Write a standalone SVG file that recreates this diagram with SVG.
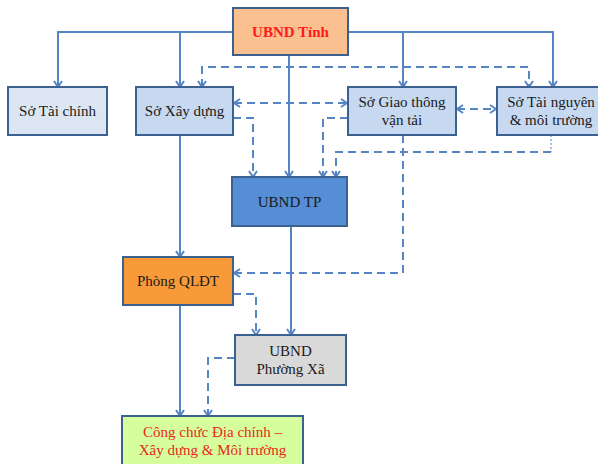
<svg xmlns="http://www.w3.org/2000/svg" width="598" height="464" viewBox="0 0 598 464">
<style>
.box{stroke:#3c6190;stroke-width:2}
.t{font-family:"Liberation Serif","DejaVu Serif",serif;font-size:15px;fill:#1a1a1a;text-anchor:middle}
.red{fill:#ff1a1a}
.c{fill:none;stroke:#5585c5;stroke-width:2}
.d{stroke-dasharray:8 5}
.dot{stroke-width:1;stroke-dasharray:2 2}
</style>
<defs>
<marker id="a" viewBox="0 0 10 10" refX="8" refY="5" markerWidth="10" markerHeight="10" markerUnits="userSpaceOnUse" orient="auto-start-reverse">
<path d="M2,1 L8,5 L2,9" fill="none" stroke="#5585c5" stroke-width="2"/>
</marker>
</defs>
<rect width="598" height="464" fill="#ffffff"/>
<g id="connectors">
<path class="c" d="M233,32 H58 V87" marker-end="url(#a)"/>
<path class="c" d="M180,32 V87" marker-end="url(#a)"/>
<path class="c" d="M289,55 V177" marker-end="url(#a)"/>
<path class="c" d="M348,32 H553 V87" marker-end="url(#a)"/>
<path class="c" d="M403,32 V87" marker-end="url(#a)"/>
<path class="c" d="M180,135 V257" marker-end="url(#a)"/>
<path class="c" d="M291,226 V335" marker-end="url(#a)"/>
<path class="c" d="M180,305 V416" marker-end="url(#a)"/>
<path class="c d" d="M202,87 V67 H529 V87" marker-start="url(#a)" marker-end="url(#a)"/>
<path class="c d" d="M234,103 H347" marker-start="url(#a)" marker-end="url(#a)"/>
<path class="c d" d="M233,118 H253 V177" marker-end="url(#a)"/>
<path class="c d" d="M348,118 H323 V177" marker-end="url(#a)"/>
<path class="c dot" d="M551,135 V152"/>
<path class="c d" d="M551,152 H336 V177" marker-end="url(#a)"/>
<path class="c d" d="M403,135 V273 H234" marker-end="url(#a)"/>
<path class="c d" d="M457,109 H496" marker-start="url(#a)" marker-end="url(#a)"/>
<path class="c d" d="M233,294 H256 V335" marker-end="url(#a)"/>
<path class="c d" d="M235,358 H208 V416" marker-end="url(#a)"/>
</g>
<g id="ubnd-tinh">
<rect class="box" x="233" y="8" width="115" height="47" fill="#fac090"/>
<text class="t red" x="290.5" y="37" font-weight="bold">UBND Tỉnh</text>
</g>
<g id="so-tai-chinh">
<rect class="box" x="8" y="87" width="99" height="48" fill="#dce6f2"/>
<text class="t" x="57.5" y="116">Sở Tài chính</text>
</g>
<g id="so-xay-dung">
<rect class="box" x="136" y="87" width="97" height="48" fill="#c6d9f1"/>
<text class="t" x="184.5" y="116">Sở Xây dựng</text>
</g>
<g id="so-gtvt">
<rect class="box" x="348" y="87" width="108" height="48" fill="#c6d9f1"/>
<text class="t" x="402" y="107">Sở Giao thông</text>
<text class="t" x="402" y="125">vận tải</text>
</g>
<g id="so-tnmt">
<rect class="box" x="497" y="87" width="108" height="48" fill="#c6d9f1"/>
<text class="t" x="551" y="107">Sở Tài nguyên</text>
<text class="t" x="551" y="125">&amp; môi trường</text>
</g>
<g id="ubnd-tp">
<rect class="box" x="232" y="177" width="115" height="49" fill="#558ed5"/>
<text class="t" x="289.5" y="207">UBND TP</text>
</g>
<g id="phong-qldt">
<rect class="box" x="123" y="257" width="110" height="48" fill="#f99a38"/>
<text class="t" x="178" y="286">Phòng QLĐT</text>
</g>
<g id="ubnd-phuong-xa">
<rect class="box" x="235" y="335" width="111" height="50" fill="#d9d9d9"/>
<text class="t" x="290.5" y="356">UBND</text>
<text class="t" x="290.5" y="374">Phường Xã</text>
</g>
<g id="cong-chuc">
<rect class="box" x="122" y="416" width="181" height="52" fill="#d7fe9c"/>
<text class="t" x="212.5" y="437" fill="#e8281c" style="fill:#e8281c">Công chức Địa chính –</text>
<text class="t" x="212.5" y="455" style="fill:#e8281c">Xây dựng &amp; Môi trường</text>
</g>
</svg>
